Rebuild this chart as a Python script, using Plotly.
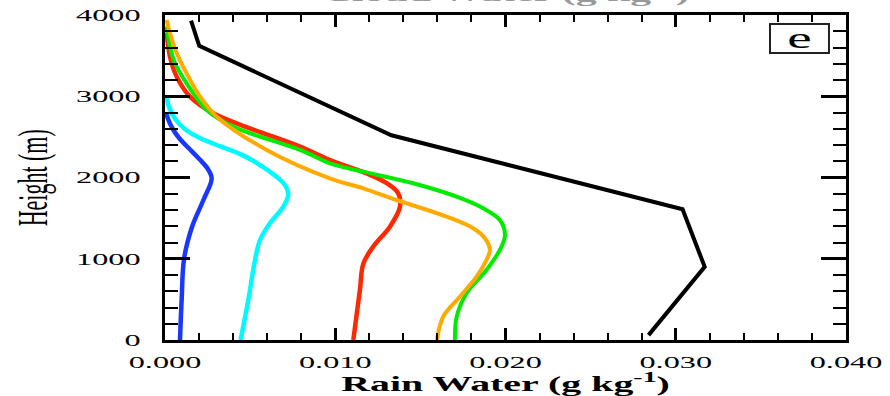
import plotly.graph_objects as go

# Vertical profiles of rain water mixing ratio (g/kg) against height (m)
black_q = [0.00153, 0.00201, 0.0133, 0.0304, 0.0317, 0.0284]
black_z = [3930, 3620, 2520, 1610, 900, 60]

blue_q = [0.00088, 0.00098, 0.00112, 0.00160, 0.00225, 0.00274, 0.00250, 0.00200, 0.00140, 0.00085, 0.00045, 0.00020, 0.00005]
blue_z = [0, 500, 1000, 1400, 1720, 1990, 2110, 2230, 2360, 2480, 2600, 2710, 2800]

cyan_q = [0.00444, 0.00489, 0.00530, 0.00558, 0.00617, 0.00695, 0.00724, 0.00700, 0.00610, 0.00470, 0.00330, 0.00210, 0.00120, 0.00060, 0.00025, 0.00008]
cyan_z = [0, 490, 1000, 1230, 1440, 1640, 1790, 1920, 2080, 2260, 2380, 2480, 2590, 2720, 2860, 3000]

red_q = [0.01106, 0.01145, 0.01165, 0.01223, 0.01321, 0.01380, 0.01370, 0.01302, 0.01184, 0.00969, 0.00793, 0.00499, 0.00284, 0.00147, 0.00069, 0.00029, 0.00010]
red_z = [0, 620, 940, 1150, 1395, 1640, 1805, 1930, 2050, 2215, 2380, 2605, 2790, 2995, 3240, 3490, 3780]

green_q = [0.01703, 0.01713, 0.01771, 0.01888, 0.01967, 0.01997, 0.01967, 0.01869, 0.01713, 0.01458, 0.01165, 0.00969, 0.00793, 0.00401, 0.00245, 0.00127, 0.00059, 0.00029, 0.00010]
green_z = [0, 287, 575, 862, 1108, 1293, 1477, 1621, 1764, 1929, 2072, 2175, 2339, 2626, 2831, 3159, 3406, 3610, 3860]

orange_q = [0.01597, 0.01634, 0.01732, 0.01830, 0.01888, 0.01908, 0.01879, 0.01810, 0.01654, 0.01360, 0.01165, 0.00980, 0.00597, 0.00304, 0.00206, 0.00127, 0.00069, 0.00029, 0.00010]
orange_z = [0, 287, 533, 779, 985, 1108, 1252, 1375, 1518, 1723, 1867, 1980, 2339, 2749, 2995, 3282, 3529, 3775, 3940]

x_ticks = [0.0, 0.01, 0.02, 0.03, 0.04]
x_labels = ["0.000", "0.010", "0.020", "0.030", "0.040"]
y_ticks = [0, 1000, 2000, 3000, 4000]
y_labels = ["0", "1000", "2000", "3000", "4000"]

SERIF = "Liberation Serif, Times New Roman, serif"

fig = go.Figure()

fig.add_trace(go.Scatter(x=black_q, y=black_z, mode="lines",
                         line=dict(color="black", width=4, shape="linear")))
for q, z, col, w in [
    (blue_q, blue_z, "rgb(25,55,255)", 4.5),
    (cyan_q, cyan_z, "rgb(0,250,255)", 4.5),
    (red_q, red_z, "rgb(255,40,0)", 4.5),
    (green_q, green_z, "rgb(0,235,0)", 4),
    (orange_q, orange_z, "rgb(255,170,0)", 4),
]:
    fig.add_trace(go.Scatter(x=q, y=z, mode="lines",
                             line=dict(color=col, width=w, shape="spline", smoothing=1.0)))

axis_common = dict(showgrid=False, zeroline=False, showline=True, linecolor="black",
                   linewidth=3, mirror="ticks", ticks="inside", tickcolor="black",
                   tickfont=dict(family=SERIF, size=17, color="black"))

fig.update_xaxes(range=[0, 0.04], tickvals=x_ticks, ticktext=x_labels,
                 ticklen=12, tickwidth=3, ticklabelstandoff=5,
                 minor=dict(dtick=0.002, ticks="inside", ticklen=7, tickwidth=2, tickcolor="black"),
                 **axis_common)
fig.update_yaxes(range=[0, 4000], tickvals=y_ticks, ticktext=y_labels,
                 ticklen=25, tickwidth=3, ticklabelstandoff=18,
                 minor=dict(dtick=200, ticks="inside", ticklen=13, tickwidth=2, tickcolor="black"),
                 **axis_common)

# panel label box
fig.add_shape(type="rect", xref="paper", yref="paper",
              x0=0.8884, x1=0.975, y0=0.883, y1=0.9723,
              line=dict(color="#222", width=2))

annotations = [
    dict(text="e", x=0.931, y=0.929, xref="paper", yref="paper", showarrow=False,
         xanchor="center", yanchor="middle", font=dict(family=SERIF, size=29, color="black")),
    dict(text="<b>Rain Water (g kg<sup>-1</sup>)</b>", x=0.5, y=-0.132, xref="paper", yref="paper",
         showarrow=False, xanchor="center", yanchor="middle",
         font=dict(family=SERIF, size=21, color="black")),
    dict(text="Height (m)", x=-0.194, y=0.5, xref="paper", yref="paper", showarrow=False,
         textangle=-90, xanchor="center", yanchor="middle",
         font=dict(family=SERIF, size=22, color="black")),
    dict(text="<b>Cloud Water (g kg<sup>-1</sup>)</b>", x=0.5, y=1.0215, xref="paper", yref="paper",
         showarrow=False, xanchor="center", yanchor="bottom",
         font=dict(family=SERIF, size=22, color="#999")),
]

fig.update_layout(width=890, height=396, margin=dict(l=165, r=44, t=15, b=56, autoexpand=False),
                  paper_bgcolor="white", plot_bgcolor="white", showlegend=False,
                  annotations=annotations)

# widen all glyphs horizontally on screen (wide typeface look)
stretch_js = """
var gd = document.getElementById('{plot_id}');
var SX = 1.9;
function stretchText(){
  gd.querySelectorAll('svg.main-svg text').forEach(function(t){
    var cur = t.getAttribute('transform') || '';
    if (t.dataset.sx && cur === t.dataset.sx) return;
    var b = t.getBBox();
    if (!b.width) return;
    var svg = t.ownerSVGElement;
    var P = t.parentNode.getCTM();
    var tr = t.transform.baseVal.consolidate();
    var T = tr ? tr.matrix : svg.createSVGMatrix();
    var C = P.multiply(T);
    var anchor = t.getAttribute('text-anchor') || 'start';
    var p = svg.createSVGPoint();
    p.x = anchor === 'end' ? b.x + b.width : (anchor === 'middle' ? b.x + b.width / 2 : b.x);
    p.y = b.y + b.height / 2;
    var q = p.matrixTransform(C);
    var S = svg.createSVGMatrix();
    S.a = SX; S.e = q.x * (1 - SX);
    var M = P.inverse().multiply(S).multiply(C);
    t.setAttribute('transform', 'matrix(' + [M.a, M.b, M.c, M.d, M.e, M.f].join(',') + ')');
    t.dataset.sx = t.getAttribute('transform');
  });
}
stretchText();
gd.on('plotly_afterplot', stretchText);
setTimeout(stretchText, 200);
"""

fig.write_html("out.html", post_script=stretch_js, config={"displayModeBar": False})
